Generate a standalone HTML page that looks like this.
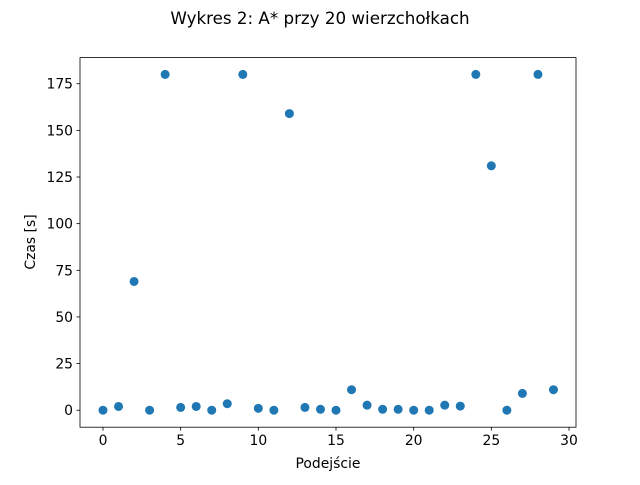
<!DOCTYPE html>
<html><head><meta charset="utf-8"><style>
body{margin:0;background:#fff;font-family:"Liberation Sans","DejaVu Sans",sans-serif;}
svg text{font-family:"DejaVu Sans","Liberation Sans",sans-serif;}
</style></head><body>
<svg id="chart" width="640" height="480">
<text x="320" y="24" text-anchor="middle" font-size="16.7">Wykres 2: A* przy 20 wierzchołkach</text>
<g id="ticks"></g>
<g id="points"></g>
<rect x="80" y="57.6" width="496" height="369.6" fill="none" stroke="#000" stroke-width="0.8"/>
<text x="328" y="468" text-anchor="middle" font-size="13.9">Podejście</text>
<text x="0" y="0" transform="translate(35,242) rotate(-90)" text-anchor="middle" font-size="13.9">Czas [s]</text>
</svg>
<script>
const attempts = [0,1,2,3,4,5,6,7,8,9,10,11,12,13,14,15,16,17,18,19,20,21,22,23,24,25,26,27,28,29];
const times = [0,2,69,0,180,1.5,2,0,3.5,180,1,0,159,1.5,0.5,0,11,2.7,0.5,0.5,0,0,2.7,2.2,180,131,0,9,180,11];
const xTicks = [0,5,10,15,20,25,30];
const yTicks = [0,25,50,75,100,125,150,175];
const L=80,R=576,T=57.6,B=427.2,xmin=-1.48,xmax=30.45,ymin=-9.1,ymax=189;
const sx=v=>L+(v-xmin)/(xmax-xmin)*(R-L);
const sy=v=>B-(v-ymin)/(ymax-ymin)*(B-T);
const NS="http://www.w3.org/2000/svg";
const tg=document.getElementById('ticks'), pg=document.getElementById('points');
function mk(tag,attrs,parent){const e=document.createElementNS(NS,tag);for(const k in attrs)e.setAttribute(k,attrs[k]);parent.appendChild(e);return e;}
xTicks.forEach(t=>{const x=sx(t);
 const l=mk('line',{x1:x,x2:x,y1:B,y2:B+3.5,stroke:'#000','stroke-width':0.8},tg);
 
 
 const tx=mk('text',{x:x,y:B+18,'text-anchor':'middle','font-size':13.9},tg);tx.textContent=t;
 
 
});
yTicks.forEach(t=>{const y=sy(t);
 const l=mk('line',{x1:L-3.5,x2:L,y1:y,y2:y,stroke:'#000','stroke-width':0.8},tg);
 
 
 const tx=mk('text',{x:L-7,y:y+5,'text-anchor':'end','font-size':13.9},tg);tx.textContent=t;
 
 
});
attempts.forEach((a,i)=>{
 const c=mk('circle',{cx:sx(a),cy:sy(times[i]),r:4.5,fill:'#1f77b4'},pg);
 
 
});
</script>
</body></html>
